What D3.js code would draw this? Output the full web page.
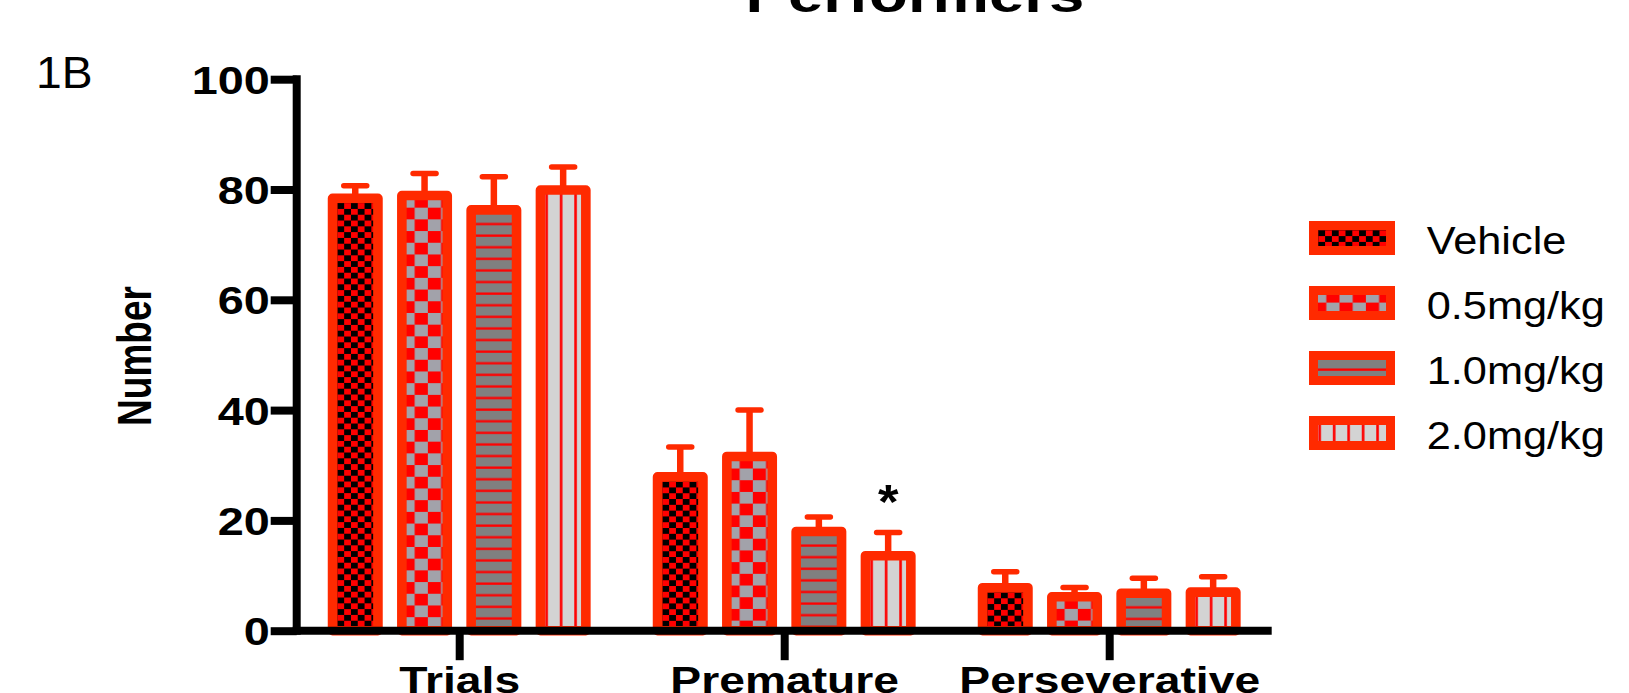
<!DOCTYPE html>
<html>
<head>
<meta charset="utf-8">
<script src="https://cdn.jsdelivr.net/npm/d3@7"></script>
<style>
  html, body { margin: 0; padding: 0; background: #fff; }
  svg { display: block; }
</style>
</head>
<body>
<svg id="chart" width="1629" height="693"></svg>
<script>
// ---------------- DATA ----------------
const categories = ["Trials", "Premature", "Perseverative"];
const seriesNames = ["Vehicle", "0.5mg/kg", "1.0mg/kg", "2.0mg/kg"];
const vehicleMean = [78.4, 27.9, 7.8];
const vehicleSEM  = [2.3, 5.4, 2.9];
const dose05Mean  = [78.9, 31.6, 6.15];
const dose05SEM   = [4.0, 8.4, 1.7];
const dose10Mean  = [76.3, 18.0, 6.8];
const dose10SEM   = [6.0, 2.6, 2.7];
const dose20Mean  = [79.9, 13.6, 7.0];
const dose20SEM   = [4.2, 4.2, 2.8];
const yTicks = [0, 20, 40, 60, 80, 100];
const significance = [{ category: "Premature", series: "2.0mg/kg", label: "*" }];
const titleText = "Performers";
const panelLabel = "1B";
const yLabel = "Number";

// ---------------- SETUP ----------------
const means = [vehicleMean, dose05Mean, dose10Mean, dose20Mean];
const sems = [vehicleSEM, dose05SEM, dose10SEM, dose20SEM];
const rows = [];
seriesNames.forEach((s, si) => categories.forEach((c, ci) => {
  rows.push({ series: s, si, category: c, mean: means[si][ci], sem: sems[si][ci] });
}));

const FONT = "'Liberation Sans', Arial, Helvetica, sans-serif";
const BORDER = "#ff2a00";
const svg = d3.select("#chart");
svg.append("rect").attr("width", 1629).attr("height", 693).attr("fill", "#fff");

const y = d3.scaleLinear().domain([0, 100]).range([630.7, 79.2]);
const x0 = d3.scalePoint().domain(categories).range([459.2, 1109.2]);
const x1 = d3.scaleBand().domain(seriesNames).range([-138.6, 138.6])
  .paddingInner(0.345).paddingOuter(0.1725);
const bw = x1.bandwidth();

// ---------------- PATTERNS ----------------
const defs = svg.append("defs");
function pat(id, w, h, tx, ty) {
  return defs.append("pattern").attr("id", id)
    .attr("patternUnits", "userSpaceOnUse")
    .attr("width", w).attr("height", h)
    .attr("patternTransform", `translate(${tx},${ty})`);
}
// Vehicle: fine black / red checker
{
  const cw = 6.8, ch = 5.8;
  const p = pat("p0", cw * 2, ch * 2, 4.8, 4.8);
  p.append("rect").attr("width", cw * 2).attr("height", ch * 2).attr("fill", "#ff0000");
  p.append("rect").attr("width", cw).attr("height", ch).attr("fill", "#000");
  p.append("rect").attr("x", cw).attr("y", ch).attr("width", cw).attr("height", ch).attr("fill", "#000");
}
// 0.5 mg/kg: coarse grey / red checker
{
  const cw = 13.2, ch = 11.7;
  const p = pat("p1", cw * 2, ch * 2, -0.4, 0.4);
  p.append("rect").attr("width", cw * 2).attr("height", ch * 2).attr("fill", "#a2a2aa");
  p.append("rect").attr("x", cw).attr("width", cw).attr("height", ch).attr("fill", "#ff0000");
  p.append("rect").attr("y", ch).attr("width", cw).attr("height", ch).attr("fill", "#ff0000");
}
// 1.0 mg/kg: grey with horizontal red lines
{
  const p = pat("p2", 20, 11.6, 0, 0);
  p.append("rect").attr("width", 20).attr("height", 11.6).attr("fill", "#808080");
  p.append("rect").attr("y", 1.4).attr("width", 20).attr("height", 2.3).attr("fill", "#ff0000");
}
// 2.0 mg/kg: light grey with vertical red lines
{
  const p = pat("p3", 14.47, 20, 0, 0);
  p.append("rect").attr("width", 14.47).attr("height", 20).attr("fill", "#d3d3d3");
  p.append("rect").attr("x", 4.9).attr("width", 2.6).attr("height", 20).attr("fill", "#ff0000");
}

// helper for stretched text
function stretchedText(parent, x, yy, txt, size, weight, sx, anchor) {
  return parent.append("text")
    .attr("transform", `translate(${x},${yy}) scale(${sx},1)`)
    .attr("text-anchor", anchor || "start")
    .attr("font-family", FONT)
    .attr("font-size", size)
    .attr("font-weight", weight)
    .attr("fill", "#000")
    .text(txt);
}

// ---------------- TITLE / LABELS ----------------
stretchedText(svg, 915, 12, titleText, 50, "bold", 1.27, "middle");
stretchedText(svg, 36, 88, panelLabel, 44, "normal", 1.05, "start");
svg.append("text")
  .attr("transform", `translate(151,356) scale(1.3,1) rotate(-90)`)
  .attr("text-anchor", "middle")
  .attr("font-family", FONT).attr("font-size", 37).attr("font-weight", "bold")
  .text(yLabel);

// ---------------- BARS ----------------
const plot = svg.append("g");
// error bars (behind bars)
const eb = plot.selectAll("g.eb").data(rows).join("g").attr("class", "eb");
eb.append("line")
  .attr("x1", d => x0(d.category) + x1(d.series) + bw / 2)
  .attr("x2", d => x0(d.category) + x1(d.series) + bw / 2)
  .attr("y1", d => y(d.mean))
  .attr("y2", d => y(d.mean + d.sem))
  .attr("stroke", BORDER).attr("stroke-width", 6.5);
eb.append("line")
  .attr("x1", d => x0(d.category) + x1(d.series) + bw / 2 - 11.5)
  .attr("x2", d => x0(d.category) + x1(d.series) + bw / 2 + 11.5)
  .attr("y1", d => y(d.mean + d.sem))
  .attr("y2", d => y(d.mean + d.sem))
  .attr("stroke", BORDER).attr("stroke-width", 5.5).attr("stroke-linecap", "round");

const bars = plot.selectAll("g.bar").data(rows).join("g").attr("class", "bar")
  .attr("transform", d => `translate(${x0(d.category) + x1(d.series)},${y(d.mean)})`);
bars.append("rect")
  .attr("width", bw)
  .attr("height", d => y(0) - y(d.mean))
  .attr("fill", d => `url(#p${d.si})`)
  .attr("stroke", BORDER).attr("stroke-width", 9.6).attr("stroke-linejoin", "round");

// significance marks
significance.forEach(s => {
  const si = seriesNames.indexOf(s.series), ci = categories.indexOf(s.category);
  const cx = x0(s.category) + x1(s.series) + bw / 2;
  const top = y(means[si][ci] + sems[si][ci]);
  stretchedText(svg, cx, top - 15, s.label, 48, "bold", 1.1, "middle");
});

// ---------------- AXES ----------------
const AX = 296.7;
const yAxis = svg.append("g").attr("transform", `translate(${AX},0)`)
  .call(d3.axisLeft(y).tickValues(yTicks).tickSize(26).tickSizeOuter(0).tickFormat(d3.format("d")));
yAxis.select(".domain").remove();
yAxis.selectAll(".tick line").attr("stroke", "#000").attr("stroke-width", 8);
yAxis.selectAll(".tick text")
  .attr("x", null).attr("dy", null)
  .attr("transform", "translate(-27,14) scale(1.2,1)")
  .attr("font-family", FONT).attr("font-size", 39).attr("font-weight", "bold")
  .attr("fill", "#000").attr("text-anchor", "end");
svg.append("line").attr("x1", AX).attr("x2", AX).attr("y1", y(100) - 4).attr("y2", y(0) + 4)
  .attr("stroke", "#000").attr("stroke-width", 8);

// x axis
svg.append("line").attr("x1", AX - 4).attr("x2", 1271.7).attr("y1", y(0)).attr("y2", y(0))
  .attr("stroke", "#000").attr("stroke-width", 8);
const xAxis = svg.append("g").attr("transform", `translate(0,${y(0)})`)
  .call(d3.axisBottom(x0).tickSize(29.5).tickSizeOuter(0));
xAxis.select(".domain").remove();
xAxis.selectAll(".tick line").attr("stroke", "#000").attr("stroke-width", 8);
xAxis.selectAll(".tick text")
  .attr("y", null).attr("dy", null)
  .attr("transform", "translate(0,62) scale(1.25,1)")
  .attr("font-family", FONT).attr("font-size", 37).attr("font-weight", "bold")
  .attr("fill", "#000").attr("text-anchor", "middle");

// ---------------- LEGEND ----------------
const legend = svg.append("g");
const lg = legend.selectAll("g").data(seriesNames).join("g")
  .attr("transform", (d, i) => `translate(1313.5,${225.5 + i * 65})`);
lg.append("rect").attr("width", 77).attr("height", 25)
  .attr("fill", (d, i) => `url(#p${i})`)
  .attr("stroke", BORDER).attr("stroke-width", 9);
lg.each(function (d) {
  stretchedText(d3.select(this), 113.2, 28.5, d, 38, "normal", 1.14, "start");
});
</script>
</body>
</html>
